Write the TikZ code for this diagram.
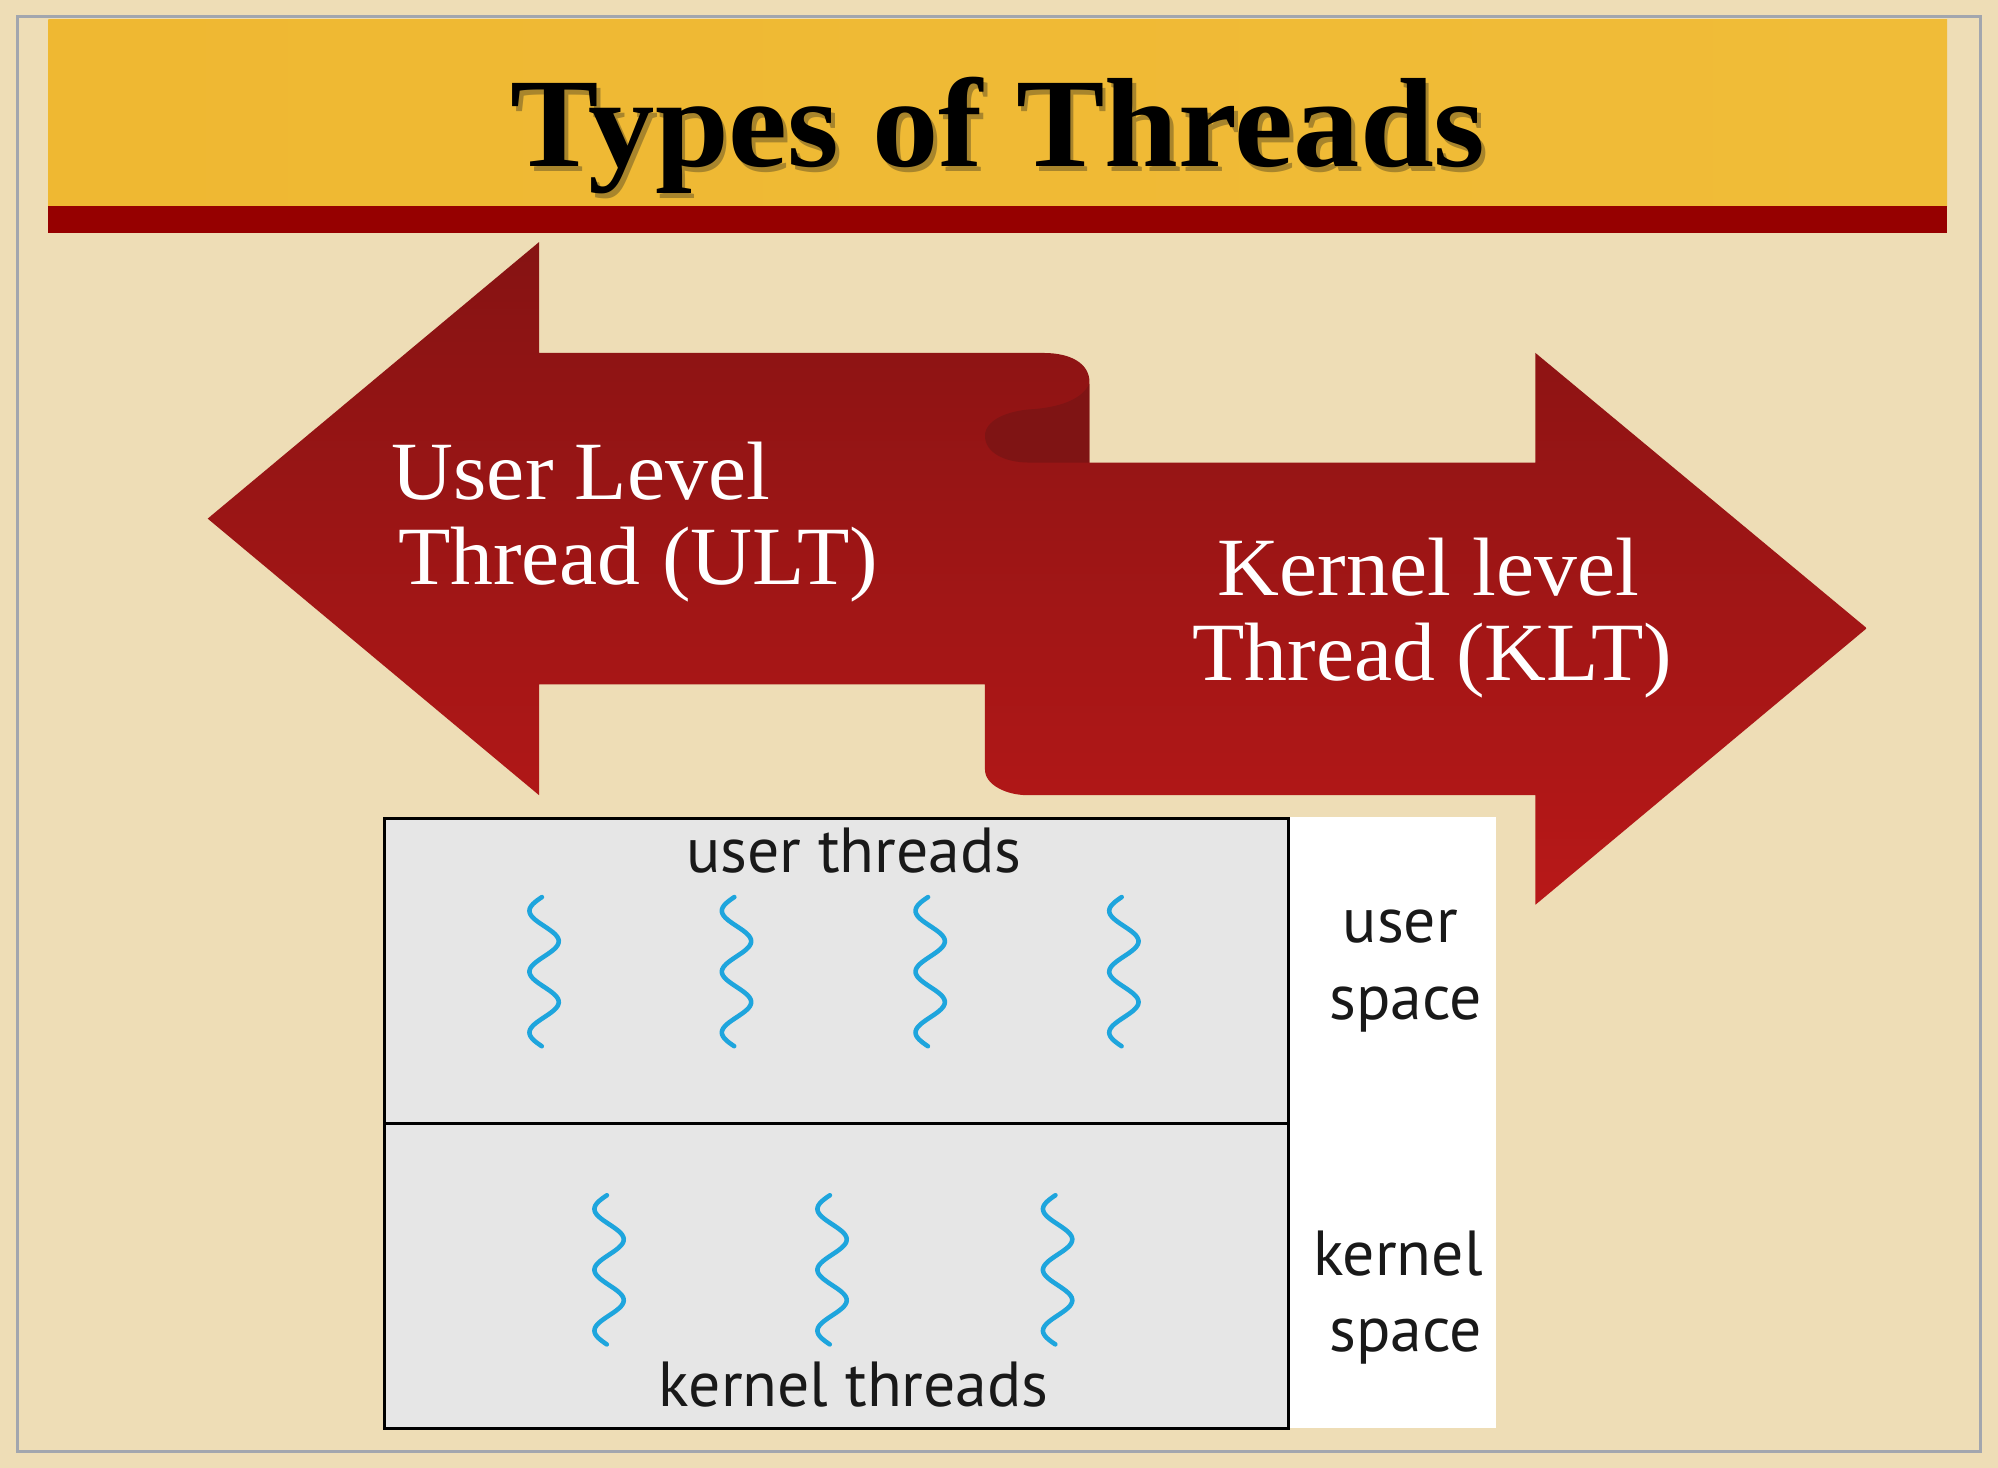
\documentclass[tikz,border=0pt]{standalone}
\usepackage{fontspec}
\setmainfont{Liberation Serif}
\newfontfamily\arrowfont[FakeStretch=1.035]{Liberation Serif}
\newfontfamily\boxfont{PT Sans}
\definecolor{parch}{HTML}{EEDDB6}
\definecolor{framegray}{HTML}{A2A6AE}
\definecolor{goldA}{HTML}{EFB832}
\definecolor{goldB}{HTML}{F5CB46}
\definecolor{goldC}{HTML}{F0BC38}
\definecolor{titleshade}{HTML}{A8852C}
\definecolor{barred}{HTML}{960000}
\definecolor{arrowtop}{HTML}{861313}
\definecolor{arrowbot}{HTML}{B81818}
\definecolor{curlred}{HTML}{7F1414}
\definecolor{boxgray}{HTML}{E6E6E6}
\definecolor{squigblue}{HTML}{1EA5DD}
\tikzset{
  arrowtext/.style={text=white, inner sep=0pt, font=\arrowfont\fontsize{32.5}{33}\selectfont},
  boxlabel/.style={text=black!90, inner sep=0pt, font=\boxfont\fontsize{25}{30}\selectfont},
  squigstyle/.style={draw=squigblue, line width=1.8pt, line cap=round},
}
\newcommand\titletext{\resizebox*{382.5pt}{45.8pt}{\bfseries Types of Threads}}
\newcommand\squiggle[2]{\draw[squigstyle] plot[domain=0.15:15.55, samples=90, smooth, variable=\t] ({#1 - 11.5*sin(\t r)}, {#2 + (\t-0.15)*7.6});}
\begin{document}
\begin{tikzpicture}[x=0.5pt,y=-0.5pt]
\useasboundingbox (0,0) rectangle (1568,1152);
\fill[parch] (0,0) rectangle (1568,1152);
\draw[framegray, line width=1.1pt] (14,13) rectangle (1554,1139);
% title banner
\shade[left color=goldA, middle color=goldB, right color=goldC] (38,15) rectangle (1528,162);
\fill[barred] (38,162) rectangle (1528,183);
\node[anchor=north west, inner sep=0pt, text=black] (title) at (400,60)
  {\rlap{\hspace*{1.5pt}\raisebox{-2pt}{\color{titleshade}\titletext}}\titletext};
% double arrow ribbon
\shade[top color=arrowtop, bottom color=arrowbot]
  (163,407) -- (423,190) -- (423,277) -- (819,277)
  .. controls (840,277) and (855,285) .. (855,300)
  -- (855,363) -- (1205,363) -- (1205,277) -- (1465,493) -- (1205,710)
  -- (1205,624) -- (806,624)
  .. controls (790,624) and (773,616) .. (773,604)
  -- (773,537) -- (423,537) -- (423,624) -- cycle;
\fill[curlred] (855,301) .. controls (850,312) and (835,319) .. (812,321)
  .. controls (790,322) and (773,330) .. (773,342)
  .. controls (773,355) and (788,363) .. (808,363) -- (855,363) -- cycle;
\node[arrowtext, anchor=base west] (ult1) at (307,392) {User Level};
\node[arrowtext, anchor=base west] (ult2) at (312,459) {Thread (ULT)};
\node[arrowtext, anchor=base] (klt1) at (1121,467) {Kernel level};
\node[arrowtext, anchor=base] (klt2) at (1124,534) {Thread (KLT)};
% threads box
\fill[white] (1012,641) rectangle (1174,1121);
\filldraw[fill=boxgray, draw=black, line width=1.2pt] (302,642) rectangle (1011,1121);
\draw[black, line width=1.2pt] (302,882) -- (1011,882);
\node[boxlabel, anchor=base] (ut) at (670,685) {user threads};
\node[boxlabel, anchor=base] (kt) at (670,1104) {kernel threads};
\node[boxlabel, anchor=base] (us1) at (1099,740) {user};
\node[boxlabel, anchor=base] (us2) at (1103,800) {space};
\node[boxlabel, anchor=base] (ks1) at (1097,1001) {kernel};
\node[boxlabel, anchor=base] (ks2) at (1103,1061) {space};
\squiggle{427}{704}
\squiggle{578}{704}
\squiggle{730}{704}
\squiggle{882}{704}
\squiggle{478}{938}
\squiggle{653}{938}
\squiggle{830}{938}
\end{tikzpicture}
\end{document}
